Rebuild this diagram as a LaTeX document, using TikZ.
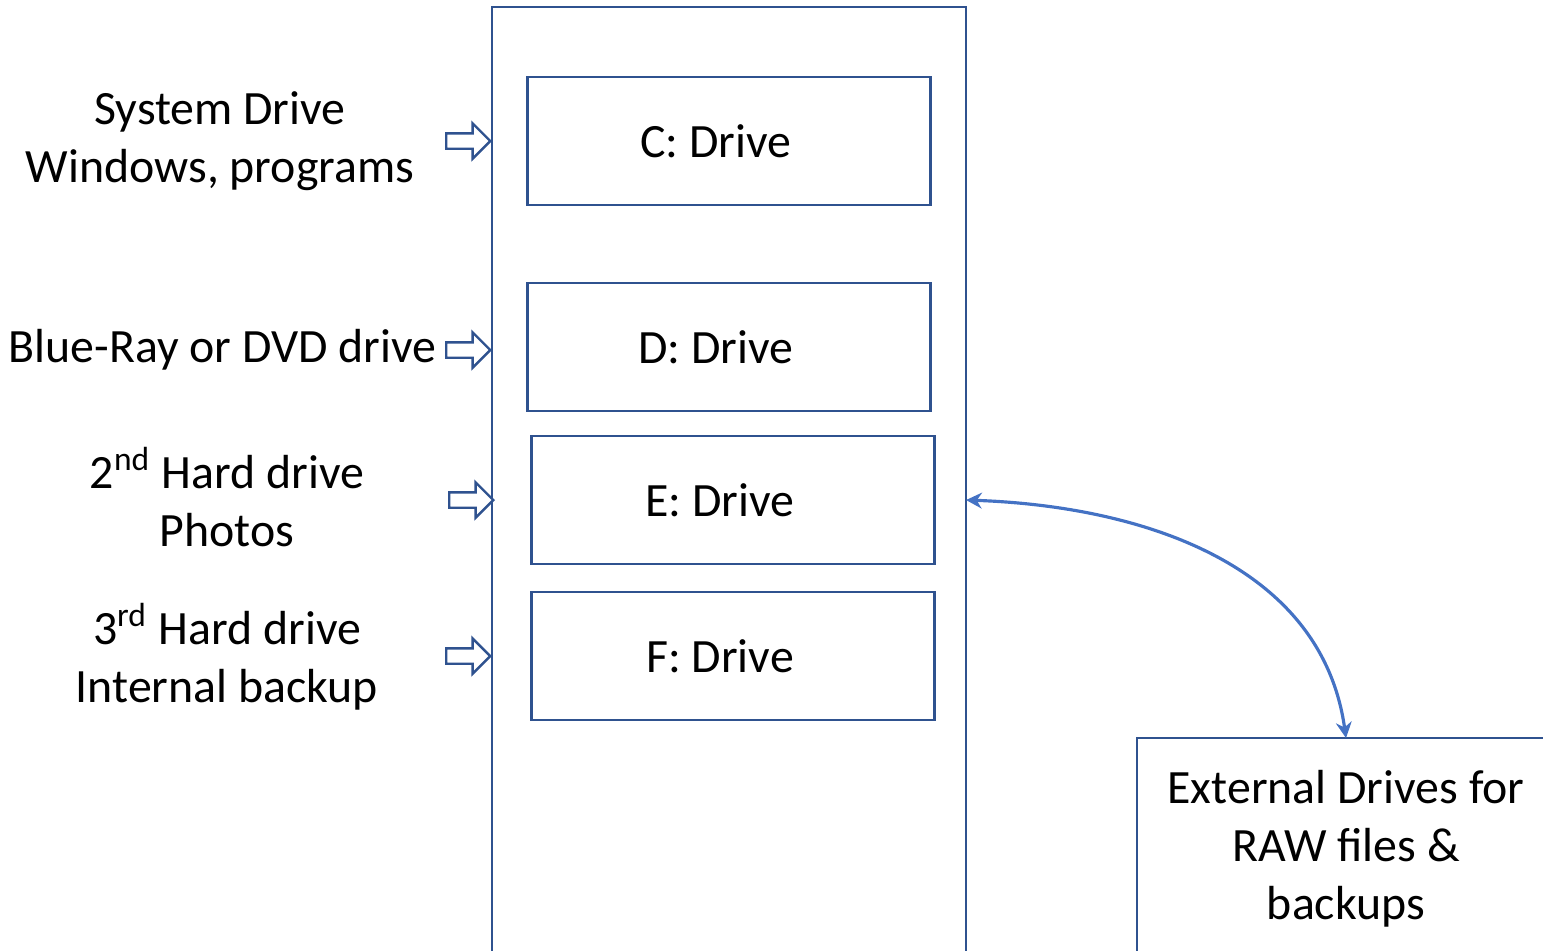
\documentclass[tikz,border=0pt]{standalone}
\usepackage{fontspec}
\setmainfont{Carlito}
\usetikzlibrary{arrows.meta, shapes.arrows}
\definecolor{caseblue}{HTML}{2F528F}
\definecolor{linkblue}{HTML}{4472C4}
\tikzset{
  drivebox/.style={draw=caseblue, line width=0.8pt, minimum width=4.02cm, minimum height=1.28cm, inner sep=0pt},
  drivetext/.style={inner sep=0pt, xshift=-0.13cm},
  feed/.style={single arrow, draw=caseblue, fill=white, line width=0.7pt, minimum height=0.44cm,
    inner xsep=0pt, inner ysep=0.065cm, single arrow head extend=0.1cm},
  link/.style={{Stealth[length=4.5pt, width=4.5pt]}-{Stealth[length=4.5pt, width=4.5pt]}, line width=0.9pt, color=linkblue},
  label/.style={align=center, inner sep=0pt},
  every node/.append style={font=\fontsize{13.6}{16.5}\selectfont}
}

\begin{document}
\begin{tikzpicture}[x=0.01cm, y=-0.01cm]
\useasboundingbox (0,0) rectangle (1543,950);
\begin{scope}
  \clip (0,0) rectangle (1543,950);
  \draw[caseblue, line width=0.8pt] (492,980) -- (492,7) -- (966,7) -- (966,980);
  \draw[caseblue, line width=0.8pt] (1137,980) -- (1137,738) -- (1560,738);
\end{scope}
\coordinate (caseW) at (492,7);
\coordinate (caseE) at (966,7);
\coordinate (ext) at (1346,738);

% drives in the case
\node[drivebox] (C) at (729,141) {};
\node[drivebox] (D) at (729,347) {};
\node[drivebox] (E) at (733,500) {};
\node[drivebox] (F) at (733,656) {};
\node[drivetext] (tC) at (C) {C: Drive};
\node[drivetext] (tD) at (D) {D: Drive};
\node[drivetext] (tE) at (E) {E: Drive};
\node[drivetext] (tF) at (F) {F: Drive};

\node[feed, anchor=tip] (fC) at (caseW |- C) {};
\node[feed, anchor=tip] (fD) at ([yshift=-0.03cm]caseW |- D) {};
\node[feed, anchor=tip] (fE) at ([xshift=0.03cm]caseW |- E) {};
\node[feed, anchor=tip] (fF) at (caseW |- F) {};

\node[label] (lC) at (220,141) {System Drive\\Windows, programs};
\node[label, anchor=east] (lD) at ([xshift=-0.08cm]fD.tail) {Blue-Ray or DVD drive};
\node[label] (lE) at (227,497) {2\textsuperscript{nd} Hard drive\\Photos};
\node[label] (lF) at (227,657) {3\textsuperscript{rd} Hard drive\\Internal backup};

\node[label] (lext) at (1346,849) {External Drives for\\RAW files \&\\backups};

\draw[link] (caseE |- E) to[out=-2, in=98] (ext);
\end{tikzpicture}
\end{document}
